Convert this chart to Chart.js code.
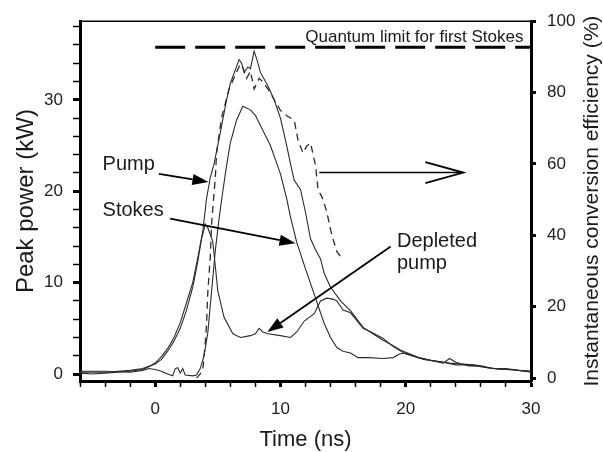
<!DOCTYPE html>
<html>
<head>
<meta charset="utf-8">
<script src="https://cdn.jsdelivr.net/npm/chart.js@4.4.0/dist/chart.umd.min.js"></script>
<style>
  html, body { margin: 0; padding: 0; background: #fff; }
</style>
</head>
<body>
<canvas id="myChart" width="603" height="452"></canvas>
<script>
// valores (tiempo en ns, potencia en kW, eficiencia en %)
const pumpT = [-6, -5, -4, -3, -2, -1, -0.5, 0, 0.5, 1, 1.5, 2, 2.5, 3, 3.4, 3.8, 4.1, 4.4, 4.7, 5.2, 5.7, 6.0, 6.3, 6.7, 6.9, 7.1, 7.4, 7.6, 7.9, 8.1, 8.4, 9.0, 9.5, 10.0, 10.5, 10.8, 11.1, 11.6, 12.0, 12.4, 12.8, 13.2, 13.5, 14.0, 14.8, 15.6, 16.6, 17.5, 18.2, 19.0, 19.6, 20.5, 21.4, 22.5, 23.5, 24.5, 25.5, 26.5, 27.6, 28.5, 30];
const pumpP = [0.1, 0.0, 0.1, 0.2, 0.3, 0.5, 0.8, 1.2, 1.9, 2.8, 4.0, 5.6, 7.8, 10.0, 12.7, 15.6, 19.2, 21.5, 23.0, 26.4, 30.0, 31.8, 32.9, 34.4, 34.0, 33.0, 33.6, 33.4, 35.3, 34.5, 33.0, 31.5, 30.0, 28.0, 25.0, 23.0, 21.2, 20.2, 17.7, 14.8, 13.6, 12.6, 11.0, 9.5, 8.0, 6.9, 5.1, 4.3, 3.7, 3.1, 2.6, 2.1, 1.6, 1.4, 1.2, 1.1, 1.0, 0.7, 0.5, 0.5, 0.2];

const stokesT = [-6, -4, -2, -1, -0.5, 0, 0.5, 1.0, 1.4, 1.6, 1.8, 2.0, 2.2, 2.4, 3.0, 3.3, 3.6, 3.9, 4.2, 4.5, 4.8, 5.1, 5.4, 5.7, 6.0, 6.5, 7.0, 7.6, 8.0, 8.4, 9.2, 10.0, 10.5, 10.8, 11.3, 12.0, 12.8, 13.5, 14.0, 14.5, 15.0, 15.6, 16.2, 17.0, 18.2, 19.0, 19.5, 20, 21, 22, 23, 23.5, 24, 25, 26, 27, 28, 29, 30];
const stokesP = [0.3, 0.3, 0.2, 0.4, 0.6, 0.5, 0.3, 0.0, -0.2, 0.6, 0.7, 0.1, 0.6, -0.1, -0.2, -0.1, 0.6, 2.0, 4.5, 9.0, 13.5, 17.0, 20.0, 22.8, 25.3, 27.8, 29.3, 28.9, 28.3, 27.2, 25.0, 21.9, 19.2, 17.2, 14.4, 11.5, 8.3, 5.5, 4.0, 2.9, 2.5, 2.3, 1.8, 1.8, 1.7, 1.8, 2.2, 2.3, 1.8, 1.5, 1.2, 1.7, 1.3, 0.9, 0.9, 0.6, 0.6, 0.4, 0.3];

const depletedT = [-6, -4, -2, -1, 0, 0.5, 1, 1.5, 2, 2.5, 3, 3.4, 3.7, 4.0, 4.2, 4.6, 5.0, 5.5, 6.2, 6.8, 7.6, 8.0, 8.3, 8.6, 9.0, 10, 10.8, 11.3, 11.9, 12.7, 13.2, 13.7, 14.2, 14.5, 15, 15.6, 16.6, 17.5, 18.2, 19, 20, 21, 22, 23, 24, 25, 26, 27, 28, 29, 30];
const depletedP = [0.2, 0.2, 0.4, 0.6, 1.1, 1.6, 2.5, 3.6, 5.0, 7.0, 9.5, 12.3, 14.8, 16.4, 16.0, 14.5, 9.1, 6.2, 4.4, 4.0, 4.2, 4.4, 5.0, 4.6, 4.4, 4.2, 4.0, 4.6, 5.8, 6.6, 8.0, 8.3, 8.2, 8.0, 7.0, 6.7, 5.0, 4.4, 3.9, 3.0, 2.2, 1.8, 1.5, 1.3, 1.0, 1.0, 0.8, 0.6, 0.5, 0.4, 0.3];

const effT = [3.3, 3.8, 4.0, 4.1, 4.2, 4.4, 4.5, 4.7, 4.8, 4.9, 5.1, 5.3, 5.6, 5.9, 6.4, 6.8, 7.0, 7.3, 7.6, 7.9, 8.3, 8.6, 9.0, 9.5, 10.0, 10.5, 11.1, 11.4, 11.8, 12.1, 12.4, 12.8, 13.0, 13.4, 13.7, 14.1, 14.5, 14.8];
const effV = [0, 2, 10, 15, 24, 34, 43, 52, 56, 63, 68, 73, 77, 81, 85, 88, 87, 84, 86, 81, 84, 83, 81, 78, 75, 73.5, 72.3, 66.7, 63.1, 65, 65.9, 59.6, 52.9, 50.1, 46.5, 40.1, 35.5, 34];

const quantumT = [0, 30];
const quantumV = [92.7, 92.7];

const xTicks = [0, 10, 20, 30];
const yTicks = [0, 10, 20, 30];
const y2Ticks = [0, 20, 40, 60, 80, 100];

const FONT = "'Liberation Sans', Arial, Helvetica, sans-serif";
const INK = '#2b2b2b';

function pairs(xs, ys) {
    return xs.map((x, i) => ({ x: x, y: ys[i] }));
}

// anotaciones: texto y flechas en unidades de datos
const notes = [
    { text: 'Pump', t: -4.2, v: 22.3 },
    { text: 'Stokes', t: -4.2, v: 17.3 },
    { text: 'Depleted', t: 19.3, v: 13.85 },
    { text: 'pump', t: 19.3, v: 11.5 }
];
const arrows = [
    { from: [0.3, 21.9], to: [4.25, 21.0], axis: 'y', filled: true },
    { from: [1.2, 17.0], to: [11.2, 14.3], axis: 'y', filled: true },
    { from: [18.8, 13.96], to: [8.95, 4.6], axis: 'y', filled: true },
    { from: [13.1, 57.6], to: [24.6, 57.6], axis: 'y2', filled: false }
];

function drawArrow(ctx, x1, y1, x2, y2, filled) {
    const ang = Math.atan2(y2 - y1, x2 - x1);
    const len = filled ? 16 : 38;
    const half = filled ? 5.5 : 10.5;
    const bx = x2 - len * Math.cos(ang), by = y2 - len * Math.sin(ang);
    const px = -Math.sin(ang) * half, py = Math.cos(ang) * half;
    ctx.save();
    ctx.strokeStyle = '#000';
    ctx.fillStyle = '#000';
    ctx.lineWidth = filled ? 1.8 : 1.4;
    ctx.beginPath();
    ctx.moveTo(x1, y1);
    ctx.lineTo(filled ? bx : x2, filled ? by : y2);
    ctx.stroke();
    ctx.beginPath();
    if (filled) {
        ctx.moveTo(x2, y2);
        ctx.lineTo(bx + px, by + py);
        ctx.lineTo(bx - px, by - py);
        ctx.closePath();
        ctx.fill();
    } else {
        ctx.lineWidth = 1.8;
        ctx.moveTo(bx + px, by + py);
        ctx.lineTo(x2, y2);
        ctx.lineTo(bx - px, by - py);
        ctx.stroke();
    }
    ctx.restore();
}

const annotationPlugin = {
    id: 'annotaciones',
    afterDatasetsDraw(chart) {
        const ctx = chart.ctx;
        const sx = chart.scales.x, sy = chart.scales.y, sy2 = chart.scales.y2;
        const area = chart.chartArea;

        // borde superior del marco
        ctx.save();
        ctx.strokeStyle = '#000';
        ctx.lineWidth = 1.5;
        ctx.beginPath();
        ctx.moveTo(area.left, area.top);
        ctx.lineTo(area.right, area.top);
        ctx.stroke();

        ctx.fillStyle = '#1a1a1a';
        ctx.font = '20px ' + FONT;
        ctx.textAlign = 'left';
        ctx.textBaseline = 'alphabetic';
        notes.forEach(n => {
            ctx.fillText(n.text, sx.getPixelForValue(n.t), sy.getPixelForValue(n.v));
        });

        ctx.font = '17px ' + FONT;
        ctx.textAlign = 'right';
        ctx.fillText('Quantum limit for first Stokes', sx.getPixelForValue(29.4), sy2.getPixelForValue(quantumV[0]) - 5);

        // titulo del eje derecho, leido de abajo hacia arriba
        ctx.font = '21px ' + FONT;
        ctx.textAlign = 'center';
        ctx.textBaseline = 'middle';
        ctx.translate(592, (area.top + area.bottom) / 2);
        ctx.rotate(-Math.PI / 2);
        ctx.fillText('Instantaneous conversion efficiency (%)', 0, 0);
        ctx.restore();

        arrows.forEach(a => {
            const s = a.axis === 'y2' ? sy2 : sy;
            drawArrow(ctx,
                sx.getPixelForValue(a.from[0]), s.getPixelForValue(a.from[1]),
                sx.getPixelForValue(a.to[0]), s.getPixelForValue(a.to[1]),
                a.filled);
        });
    }
};

function tickWidth(list) {
    return c => (c.tick && list.includes(c.tick.value)) ? 3 : 1.5;
}

document.addEventListener('DOMContentLoaded', function() {
    const solid = { borderColor: INK, borderWidth: 1.1, pointRadius: 0, tension: 0, fill: false };

    const data = {
        datasets: [
            Object.assign({ label: 'Pump', data: pairs(pumpT, pumpP), yAxisID: 'y' }, solid),
            Object.assign({ label: 'Stokes', data: pairs(stokesT, stokesP), yAxisID: 'y' }, solid),
            Object.assign({ label: 'Depleted pump', data: pairs(depletedT, depletedP), yAxisID: 'y' }, solid),
            {
                label: 'Efficiency', data: pairs(effT, effV), yAxisID: 'y2',
                borderColor: INK, borderWidth: 1.3, borderDash: [7, 5], pointRadius: 0, tension: 0, fill: false
            },
            {
                label: 'Quantum limit', data: pairs(quantumT, quantumV), yAxisID: 'y2',
                borderColor: '#000', borderWidth: 3, borderDash: [30, 10], pointRadius: 0, fill: false
            }
        ]
    };

    const config = {
        type: 'line',
        data: data,
        options: {
            responsive: false,
            animation: false,
            devicePixelRatio: 1,
            layout: { padding: { top: 17, left: 0, right: 0, bottom: 0 } },
            plugins: {
                legend: { display: false },
                tooltip: { enabled: false },
                title: { display: false }
            },
            scales: {
                x: {
                    type: 'linear',
                    position: 'bottom',
                    min: -6,
                    max: 30,
                    border: { display: true, width: 3, color: '#000' },
                    grid: { drawOnChartArea: false, drawTicks: true, tickLength: 6, tickColor: '#000', tickWidth: tickWidth(xTicks) },
                    ticks: {
                        stepSize: 2, autoSkip: false, includeBounds: false, maxRotation: 0, padding: 12,
                        color: '#222', font: { family: FONT, size: 17 },
                        callback: v => xTicks.includes(v) ? String(v) : ''
                    },
                    title: {
                        display: true, text: 'Time (ns)', color: '#1a1a1a',
                        font: { family: FONT, size: 22, lineHeight: 1 }, padding: { top: 0, bottom: 1 }
                    },
                    afterFit: s => { s.height = 71; }
                },
                y: {
                    type: 'linear',
                    position: 'left',
                    min: -0.76,
                    max: 38.6,
                    border: { display: true, width: 3, color: '#000' },
                    grid: { drawOnChartArea: false, drawTicks: true, tickLength: 7, tickColor: '#000', tickWidth: tickWidth(yTicks) },
                    ticks: {
                        stepSize: 2, autoSkip: false, includeBounds: false, padding: 10,
                        color: '#222', font: { family: FONT, size: 17 },
                        callback: v => yTicks.includes(v) ? String(v) : ''
                    },
                    title: {
                        display: true, text: 'Peak power (kW)', color: '#1a1a1a',
                        font: { family: FONT, size: 24, lineHeight: 1 }, padding: { top: 14, bottom: 0 }
                    },
                    afterFit: s => { s.width = 80; }
                },
                y2: {
                    type: 'linear',
                    axis: 'y',
                    position: 'right',
                    min: -0.8,
                    max: 100,
                    border: { display: true, width: 3, color: '#000' },
                    grid: { drawOnChartArea: false, drawTicks: true, tickLength: 5, tickColor: '#000', tickWidth: 3 },
                    ticks: {
                        stepSize: 20, autoSkip: false, includeBounds: false, padding: 11,
                        color: '#222', font: { family: FONT, size: 17 },
                        callback: v => y2Ticks.includes(v) ? String(v) : ''
                    },
                    title: { display: false },
                    afterFit: s => { s.width = 72; }
                }
            }
        },
        plugins: [annotationPlugin]
    };

    const ctx = document.getElementById('myChart').getContext('2d');
    window.powerChart = new Chart(ctx, config);
});
</script>
</body>
</html>
